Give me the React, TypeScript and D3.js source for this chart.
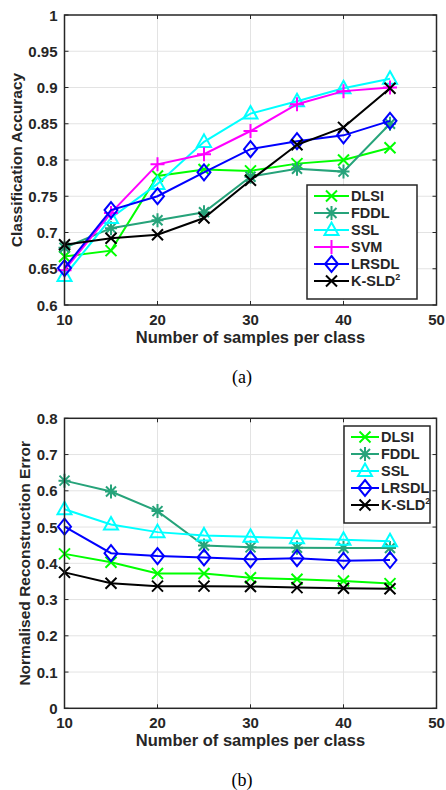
import * as d3 from "d3";
import React from "react";

// Data
const samples = [10, 15, 20, 25, 30, 35, 40, 45];

const accDLSI = [0.667, 0.675, 0.778, 0.787, 0.785, 0.795, 0.8, 0.817];
const accFDDL = [0.679, 0.706, 0.717, 0.728, 0.777, 0.788, 0.784, 0.85];
const accSSL = [0.64, 0.72, 0.767, 0.825, 0.864, 0.881, 0.899, 0.912];
const accSVM = [0.648, 0.727, 0.794, 0.808, 0.84, 0.877, 0.895, 0.9];
const accLRSDL = [0.651, 0.731, 0.75, 0.783, 0.815, 0.826, 0.834, 0.854];
const accKSLD = [0.683, 0.692, 0.697, 0.72, 0.772, 0.821, 0.845, 0.899];

const errDLSI = [0.426, 0.403, 0.372, 0.372, 0.36, 0.356, 0.351, 0.344];
const errFDDL = [0.628, 0.598, 0.544, 0.449, 0.444, 0.443, 0.442, 0.442];
const errSSL = [0.549, 0.507, 0.486, 0.477, 0.473, 0.469, 0.465, 0.461];
const errLRSDL = [0.501, 0.428, 0.42, 0.416, 0.411, 0.414, 0.407, 0.409];
const errKSLD = [0.375, 0.345, 0.337, 0.337, 0.336, 0.333, 0.331, 0.33];

const xTicks = [10, 20, 30, 40, 50];
const accTicks = [0.6, 0.65, 0.7, 0.75, 0.8, 0.85, 0.9, 0.95, 1];
const errTicks = [0, 0.1, 0.2, 0.3, 0.4, 0.5, 0.6, 0.7, 0.8];

const styles = {
  DLSI: { color: "#00ff00", marker: "x" },
  FDDL: { color: "#26a37a", marker: "star" },
  SSL: { color: "#00ffff", marker: "tri" },
  SVM: { color: "#ff00ff", marker: "plus" },
  LRSDL: { color: "#0000ff", marker: "diamond" },
  "K-SLD2": { color: "#000000", marker: "x" },
};

const FONT = "'Liberation Sans', Arial, sans-serif";
const INK = "#262626";

const Marker = ({ type, x, y, color }) => {
  const s = 5.5;
  const common = { stroke: color, strokeWidth: 2, fill: "none" };
  if (type === "x")
    return <path d={`M${x - s},${y - s}L${x + s},${y + s}M${x - s},${y + s}L${x + s},${y - s}`} {...common} />;
  if (type === "plus")
    return <path d={`M${x - 7},${y}L${x + 7},${y}M${x},${y - 7}L${x},${y + 7}`} {...common} />;
  if (type === "star")
    return (
      <path
        d={`M${x - 6},${y}L${x + 6},${y}M${x},${y - 7}L${x},${y + 7}M${x - 5},${y - 5}L${x + 5},${y + 5}M${x - 5},${y + 5}L${x + 5},${y - 5}`}
        {...common}
      />
    );
  if (type === "tri")
    return <path d={`M${x},${y - 7.5}L${x + 7},${y + 5}L${x - 7},${y + 5}Z`} {...common} />;
  return <path d={`M${x},${y - 8}L${x + 6.5},${y}L${x},${y + 8}L${x - 6.5},${y}Z`} {...common} />;
};

const Panel = ({ top, yDomain, yTicks, yLabel, yLabelX, series, legend, caption }) => {
  const left = 64.5, right = 436.5;
  const bottom = top + 290;
  const x = d3.scaleLinear().domain([10, 50]).range([left, right]);
  const y = d3.scaleLinear().domain(yDomain).range([bottom, top]);
  const line = d3.line<number>().x((_, i) => x(samples[i])).y(d => y(d));
  const fmt = (v: number) => String(+v.toFixed(2));

  return (
    <g fontFamily={FONT} fontWeight="bold" fill={INK}>
      {/* grid */}
      {xTicks.slice(1, -1).map(t => (
        <line key={"gx" + t} x1={x(t)} x2={x(t)} y1={top} y2={bottom} stroke="#e3e3e3" strokeWidth={1} />
      ))}
      {yTicks.slice(1, -1).map(t => (
        <line key={"gy" + t} x1={left} x2={right} y1={y(t)} y2={y(t)} stroke="#e3e3e3" strokeWidth={1} />
      ))}
      {/* tick marks */}
      {xTicks.map(t => (
        <g key={"tx" + t}>
          <line x1={x(t)} x2={x(t)} y1={bottom} y2={bottom - 4} stroke={INK} />
          <line x1={x(t)} x2={x(t)} y1={top} y2={top + 4} stroke={INK} />
          <text x={x(t)} y={bottom + 20} textAnchor="middle" fontSize={15}>{t}</text>
        </g>
      ))}
      {yTicks.map(t => (
        <g key={"ty" + t}>
          <line x1={left} x2={left + 4} y1={y(t)} y2={y(t)} stroke={INK} />
          <line x1={right} x2={right - 4} y1={y(t)} y2={y(t)} stroke={INK} />
          <text x={left - 7} y={y(t) + 5.5} textAnchor="end" fontSize={15}>{fmt(t)}</text>
        </g>
      ))}
      {/* series */}
      {series.map(s => (
        <g key={s.name}>
          <path d={line(s.values)} fill="none" stroke={styles[s.name].color} strokeWidth={2} />
          {s.values.map((v, i) => (
            <Marker key={i} type={styles[s.name].marker} x={x(samples[i])} y={y(v)} color={styles[s.name].color} />
          ))}
        </g>
      ))}
      {/* box */}
      <rect x={left} y={top} width={right - left} height={bottom - top} fill="none" stroke={INK} strokeWidth={1.5} />
      {/* legend */}
      <rect x={legend.x} y={legend.y} width={legend.w} height={series.length * 17 + 12} fill="#fff" stroke={INK} strokeWidth={1.5} />
      {series.map((s, i) => {
        const cy = legend.y + 11 + i * 17;
        const c = styles[s.name].color;
        return (
          <g key={"lg" + s.name}>
            <line x1={legend.x + 7} x2={legend.x + legend.lineW + 7} y1={cy} y2={cy} stroke={c} strokeWidth={2} />
            <Marker type={styles[s.name].marker} x={legend.x + 7 + legend.lineW / 2} y={cy} color={c} />
            <text x={legend.x + legend.lineW + 9} y={cy + 5} fontSize={14.5}>
              {s.name === "K-SLD2" ? (
                <>K-SLD<tspan fontSize={9} dy={-6}>2</tspan></>
              ) : s.name}
            </text>
          </g>
        );
      })}
      {/* labels */}
      <text x={(left + right) / 2} y={bottom + 38} textAnchor="middle" fontSize={16.5}>Number of samples per class</text>
      <text transform={`translate(${yLabelX},${(top + bottom) / 2}) rotate(-90)`} textAnchor="middle" fontSize={15.5}>{yLabel}</text>
      <text x={242} y={bottom + 78} textAnchor="middle" fontFamily="'Liberation Serif', serif" fontWeight="normal" fontSize={18} fill="#000">{caption}</text>
    </g>
  );
};

export default function App() {
  const accSeries = [
    { name: "DLSI", values: accDLSI },
    { name: "FDDL", values: accFDDL },
    { name: "SSL", values: accSSL },
    { name: "SVM", values: accSVM },
    { name: "LRSDL", values: accLRSDL },
    { name: "K-SLD2", values: accKSLD },
  ];
  const errSeries = [
    { name: "DLSI", values: errDLSI },
    { name: "FDDL", values: errFDDL },
    { name: "SSL", values: errSSL },
    { name: "LRSDL", values: errLRSDL },
    { name: "K-SLD2", values: errKSLD },
  ];
  return (
    <svg width={446} height={790} style={{ position: "absolute", left: 0, top: 0, background: "#fff" }}>
      <Panel top={15} yDomain={[0.6, 1]} yTicks={accTicks} yLabel="Classification Accuracy" yLabelX={22}
        series={accSeries} legend={{ x: 307, y: 185, w: 110, lineW: 35 }} caption="(a)" />
      <Panel top={418.3} yDomain={[0, 0.8]} yTicks={errTicks} yLabel="Normalised Reconstruction Error" yLabelX={30}
        series={errSeries} legend={{ x: 344, y: 426, w: 86, lineW: 28 }} caption="(b)" />
    </svg>
  );
}
